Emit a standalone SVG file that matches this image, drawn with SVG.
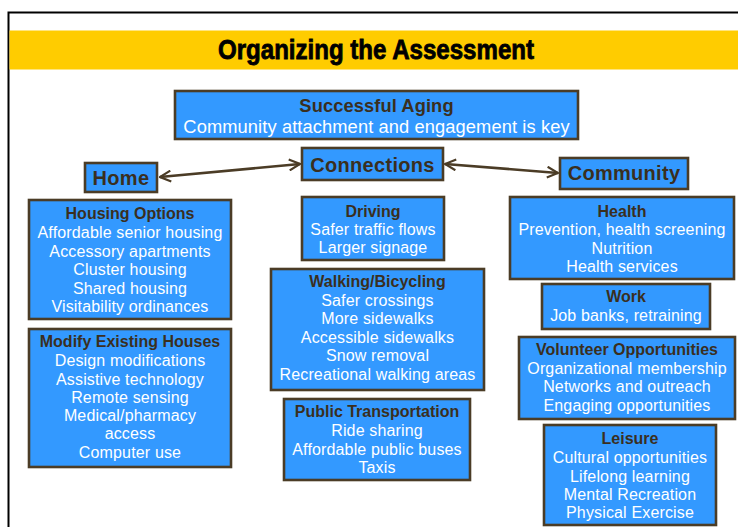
<svg xmlns="http://www.w3.org/2000/svg" width="738" height="527" viewBox="0 0 738 527">
  <style>
    .box { fill: #3399ff; stroke: #4b3c26; stroke-width: 2.6; }
    .hd { font-family: "Liberation Sans", Arial, sans-serif; font-weight: bold; font-size: 16px; fill: #3a2f1e; text-anchor: middle; }
    .tx { font-family: "Liberation Sans", Arial, sans-serif; font-size: 16px; letter-spacing: 0.15px; fill: #ffffff; text-anchor: middle; }
    .lead { font-size: 18.3px; letter-spacing: 0.1px; }
    .big { font-family: "Liberation Sans", Arial, sans-serif; font-weight: bold; font-size: 20px; letter-spacing: 0.3px; fill: #3a2f1e; text-anchor: middle; }
    .link { fill: none; stroke: #4b3c26; stroke-width: 2.6; marker-start: url(#head); marker-end: url(#head); }
  </style>
  <defs>
    <marker id="head" viewBox="0 0 12 12" refX="11" refY="6" markerWidth="5" markerHeight="5" orient="auto-start-reverse" markerUnits="strokeWidth">
      <path d="M1,1 L11,6 L1,11" fill="none" stroke="#4b3c26" stroke-width="2"/>
    </marker>
  </defs>

  <rect width="738" height="527" fill="#ffffff"/>

  <!-- slide frame and title band -->
  <rect x="8.5" y="12.5" width="760" height="560" fill="none" stroke="#000000" stroke-width="2"/>
  <rect x="9.5" y="30.5" width="729" height="39" fill="#ffcc00"/>
  <text x="376" y="59" textLength="316" lengthAdjust="spacingAndGlyphs" font-family="'Liberation Sans', Arial, sans-serif" font-weight="bold" font-size="27" fill="#000000" stroke="#000000" stroke-width="0.8" text-anchor="middle">Organizing the Assessment</text>

  <g id="successful-aging">
    <rect class="box" x="175" y="91" width="403" height="48"/>
    <text class="hd lead" x="376.5" y="112">Successful Aging</text>
    <text class="tx lead" x="376.5" y="133">Community attachment and engagement is key</text>
  </g>

  <g id="connectors">
    <line class="link" x1="160" y1="177" x2="300" y2="164"/>
    <line class="link" x1="445" y1="164" x2="558" y2="173"/>
  </g>

  <g id="home">
    <rect class="box" x="85" y="163" width="72" height="29"/>
    <text class="big" x="121" y="185">Home</text>
  </g>
  <g id="connections">
    <rect class="box" x="302" y="148" width="141" height="32"/>
    <text class="big" x="372.5" y="172">Connections</text>
  </g>
  <g id="community">
    <rect class="box" x="560" y="158" width="128" height="31"/>
    <text class="big" x="624" y="180">Community</text>
  </g>

  <g id="housing-options">
    <rect class="box" x="29" y="200" width="202" height="119"/>
    <text class="hd" x="130" y="219">Housing Options</text>
    <text class="tx" x="130" y="238">Affordable senior housing</text>
    <text class="tx" x="130" y="256.5">Accessory apartments</text>
    <text class="tx" x="130" y="275">Cluster housing</text>
    <text class="tx" x="130" y="293.5">Shared housing</text>
    <text class="tx" x="130" y="312">Visitability ordinances</text>
  </g>

  <g id="modify-existing-houses">
    <rect class="box" x="29" y="329" width="202" height="138"/>
    <text class="hd" x="130" y="347">Modify Existing Houses</text>
    <text class="tx" x="130" y="366">Design modifications</text>
    <text class="tx" x="130" y="384.5">Assistive technology</text>
    <text class="tx" x="130" y="403">Remote sensing</text>
    <text class="tx" x="130" y="421">Medical/pharmacy</text>
    <text class="tx" x="130" y="439">access</text>
    <text class="tx" x="130" y="458">Computer use</text>
  </g>

  <g id="driving">
    <rect class="box" x="302" y="197" width="142" height="63"/>
    <text class="hd" x="373" y="217">Driving</text>
    <text class="tx" x="373" y="235">Safer traffic flows</text>
    <text class="tx" x="373" y="253">Larger signage</text>
  </g>

  <g id="walking-bicycling">
    <rect class="box" x="271" y="269" width="213" height="121"/>
    <text class="hd" x="377.5" y="287">Walking/Bicycling</text>
    <text class="tx" x="377.5" y="305.5">Safer crossings</text>
    <text class="tx" x="377.5" y="324">More sidewalks</text>
    <text class="tx" x="377.5" y="342.5">Accessible sidewalks</text>
    <text class="tx" x="377.5" y="361">Snow removal</text>
    <text class="tx" x="377.5" y="379.5">Recreational walking areas</text>
  </g>

  <g id="public-transportation">
    <rect class="box" x="284" y="399" width="186" height="81"/>
    <text class="hd" x="377" y="417">Public Transportation</text>
    <text class="tx" x="377" y="435.5">Ride sharing</text>
    <text class="tx" x="377" y="455">Affordable public buses</text>
    <text class="tx" x="377" y="473">Taxis</text>
  </g>

  <g id="health">
    <rect class="box" x="510" y="197" width="224" height="82"/>
    <text class="hd" x="622" y="217">Health</text>
    <text class="tx" x="622" y="235">Prevention, health screening</text>
    <text class="tx" x="622" y="253.5">Nutrition</text>
    <text class="tx" x="622" y="272">Health services</text>
  </g>

  <g id="work">
    <rect class="box" x="542" y="284" width="168" height="45"/>
    <text class="hd" x="626" y="302">Work</text>
    <text class="tx" x="626" y="321">Job banks, retraining</text>
  </g>

  <g id="volunteer-opportunities">
    <rect class="box" x="519" y="337" width="216" height="82"/>
    <text class="hd" x="627" y="355">Volunteer Opportunities</text>
    <text class="tx" x="627" y="374">Organizational membership</text>
    <text class="tx" x="627" y="392">Networks and outreach</text>
    <text class="tx" x="627" y="411">Engaging opportunities</text>
  </g>

  <g id="leisure">
    <rect class="box" x="544" y="425" width="172" height="100"/>
    <text class="hd" x="630" y="444">Leisure</text>
    <text class="tx" x="630" y="463">Cultural opportunities</text>
    <text class="tx" x="630" y="481.5">Lifelong learning</text>
    <text class="tx" x="630" y="500">Mental Recreation</text>
    <text class="tx" x="630" y="518">Physical Exercise</text>
  </g>
</svg>
